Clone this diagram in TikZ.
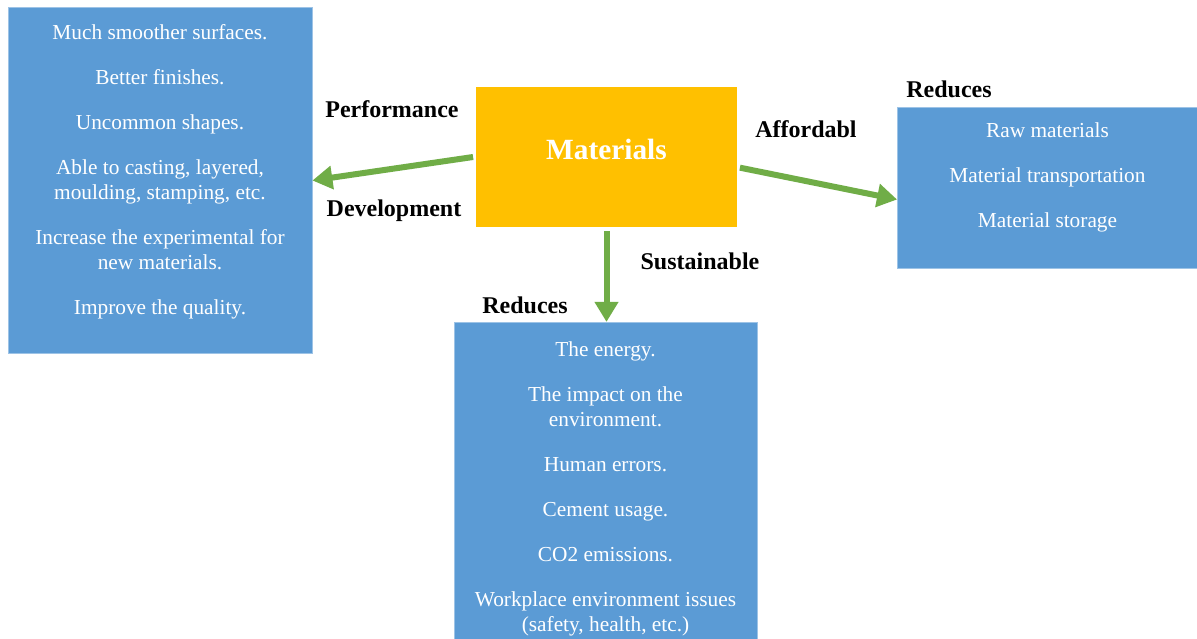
\documentclass[tikz,border=0pt]{standalone}
\usepackage{fontspec}
\setmainfont{Liberation Serif}
\usetikzlibrary{arrows.meta}
\definecolor{boxblue}{HTML}{5B9BD5}
\definecolor{matorange}{HTML}{FFC000}
\definecolor{arrowgreen}{HTML}{70AD47}
\tikzset{
  bluebox/.style={fill=boxblue, draw=boxblue!60!white, line width=0.6pt, inner sep=0pt},
  itemlist/.style={text=white, align=center, font=\fontsize{16}{18.75}\selectfont, inner sep=0pt, anchor=north},
  tag/.style={font=\fontsize{18}{21}\selectfont\bfseries},
  flow/.style={draw=arrowgreen, line width=4.5pt, -{Triangle[length=15pt,width=17pt]}}
}
\begin{document}
\begin{tikzpicture}[x=0.75pt, y=-0.75pt]
      \clip (0,0) rectangle (1197,639);
      \fill[white] (0,0) rectangle (1197,639);
      \node[bluebox, minimum width=228pt, minimum height=260pt] (perf) at (160,180.5) {};
      \node[bluebox, minimum width=225pt, minimum height=120.75pt] (afford) at (1047.5,187.5) {};
      \node[bluebox, minimum width=227.25pt, minimum height=262pt] (sust) at (605.5,497) {};
      \node[fill=matorange, minimum width=195.75pt, minimum height=105pt, inner sep=0pt,
            text=white, font=\fontsize{22}{25}\selectfont\bfseries] (mat) at (606.5,157) {\raisebox{11pt}{Materials}};
      \node[itemlist, yshift=-13pt] (perflist) at (perf.north) {Much smoother surfaces.\\[15pt]
        Better finishes.\\[15pt]
        Uncommon shapes.\\[15pt]
        Able to casting, layered,\\ moulding, stamping, etc.\\[15pt]
        Increase the experimental for\\ new materials.\\[15pt]
        Improve the quality.};
      \node[itemlist, yshift=-12pt] (affordlist) at (afford.north) {Raw materials\\[15pt]
        Material transportation\\[15pt]
        Material storage};
      \node[itemlist, yshift=-14.5pt] (sustlist) at (sust.north) {The energy.\\[15pt]
        The impact on the\\ environment.\\[15pt]
        Human errors.\\[15pt]
        Cement usage.\\[15pt]
        CO2 emissions.\\[15pt]
        Workplace environment issues\\ (safety, health, etc.)};
      \node[tag] (perflabel) at (392,109) {Performance};
      \node[tag] (devlabel) at (394,211) {Development};
      \node[tag] (afflabel) at (806,129) {Affordabl};
      \node[tag] (sustlabel) at (700,261) {Sustainable};
      \node[tag] (redsust) at (525,305) {Reduces};
      \node[tag] (redafford) at (949,89) {Reduces};
      \begin{scope}[flow]
        \draw ([xshift=-2pt]mat.west) to (perf.east);
        \draw ([xshift=2pt, yshift=-8pt]mat.east) to ([yshift=-9pt]afford.west);
        \draw ([yshift=-3pt]mat.south) to (mat.south |- sust.north);
      \end{scope}
    \end{tikzpicture}
\end{document}
